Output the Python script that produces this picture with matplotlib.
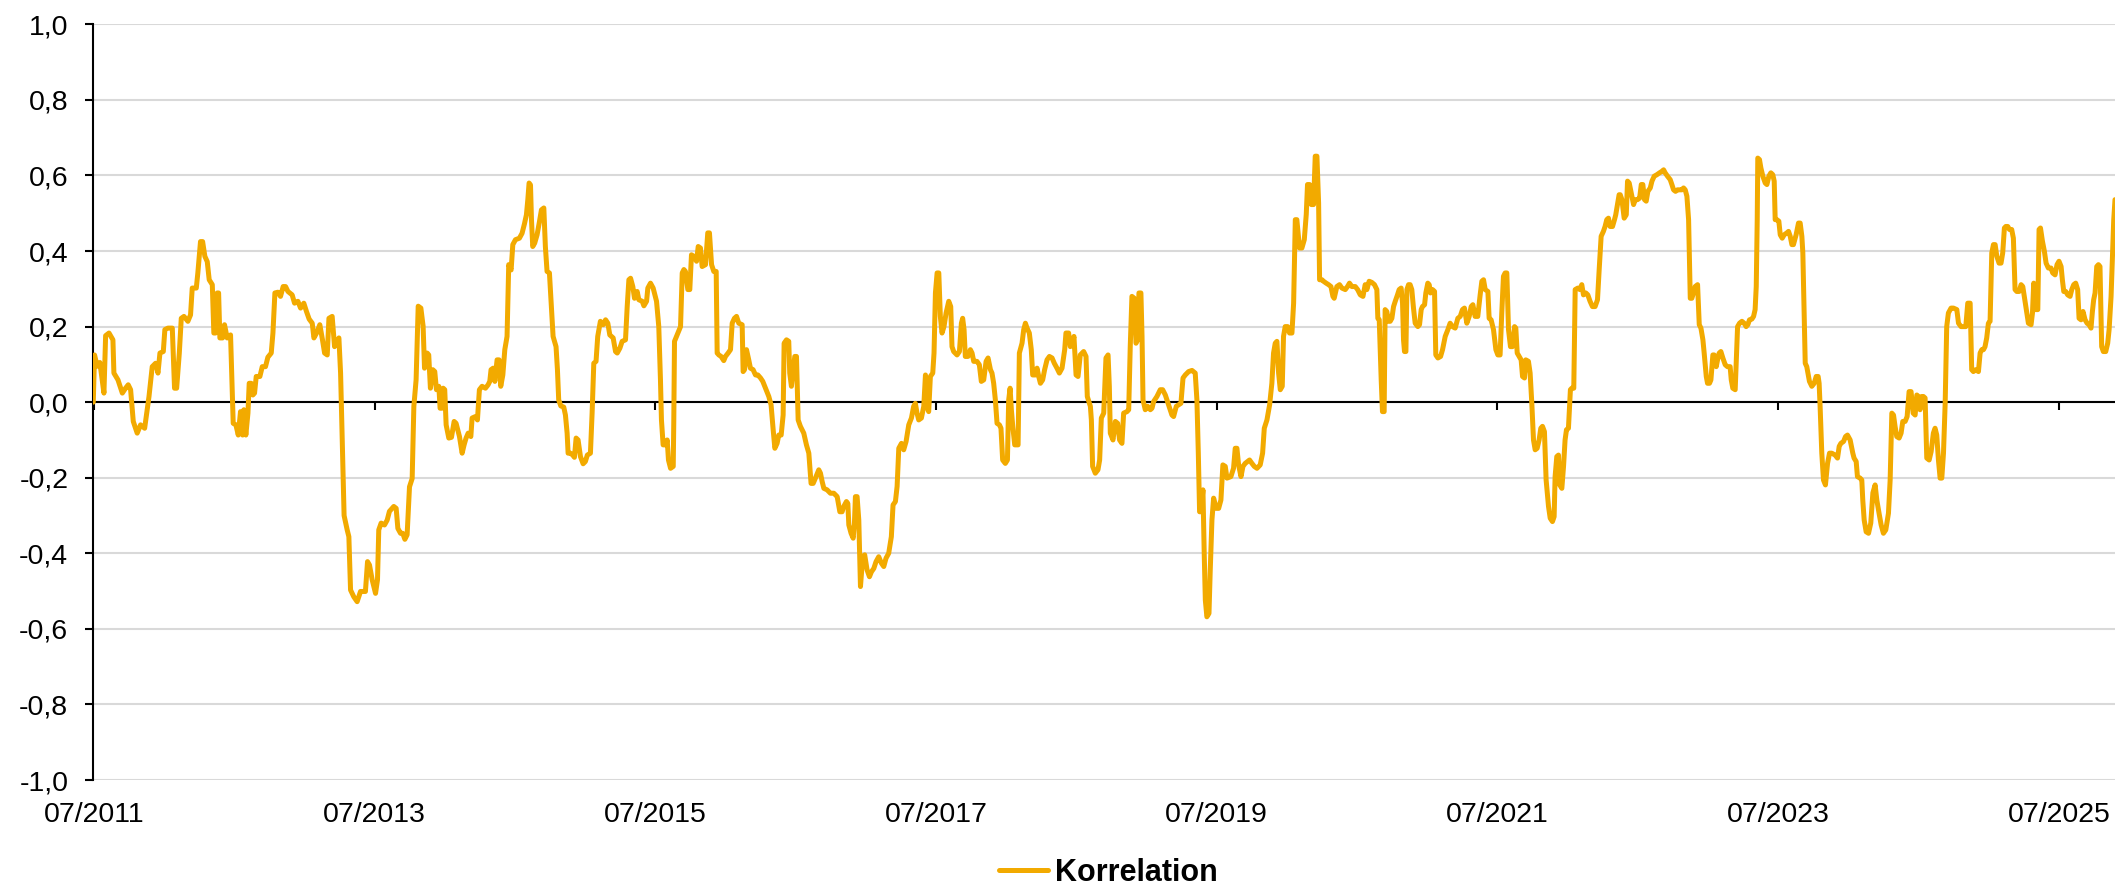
import matplotlib.pyplot as plt

plt.rcParams['font.family'] = ['Liberation Sans', 'DejaVu Sans']
plt.rcParams['axes.unicode_minus'] = False

# Zeitpunkte als Dezimaljahre
zeit = [
    2011.496, 2011.505, 2011.524, 2011.543, 2011.572, 2011.584, 2011.608, 2011.636, 2011.643, 2011.672,
    2011.703, 2011.726, 2011.745, 2011.762, 2011.781, 2011.809, 2011.833, 2011.862, 2011.893, 2011.916,
    2011.940, 2011.957, 2011.971, 2011.995, 2012.006, 2012.028, 2012.059, 2012.075, 2012.090, 2012.109,
    2012.123, 2012.142, 2012.170, 2012.189, 2012.201, 2012.230, 2012.241, 2012.260, 2012.275, 2012.291,
    2012.308, 2012.322, 2012.344, 2012.355, 2012.367, 2012.379, 2012.389, 2012.398, 2012.417, 2012.431,
    2012.450, 2012.474, 2012.493, 2012.512, 2012.529, 2012.545, 2012.560, 2012.569, 2012.583, 2012.598,
    2012.607, 2012.621, 2012.633, 2012.645, 2012.657, 2012.683, 2012.700, 2012.723, 2012.740, 2012.764,
    2012.776, 2012.790, 2012.811, 2012.830, 2012.849, 2012.866, 2012.883, 2012.913, 2012.930, 2012.954,
    2012.973, 2012.996, 2013.015, 2013.034, 2013.056, 2013.068, 2013.087, 2013.110, 2013.129, 2013.144,
    2013.163, 2013.175, 2013.198, 2013.215, 2013.229, 2013.246, 2013.258, 2013.283,
    # 2013-2015
    2013.305, 2013.317, 2013.329, 2013.352, 2013.376, 2013.400, 2013.435, 2013.450, 2013.464, 2013.483,
    2013.507, 2013.521, 2013.530, 2013.547, 2013.571, 2013.590, 2013.606, 2013.637, 2013.654, 2013.666,
    2013.685, 2013.701, 2013.716, 2013.732, 2013.749, 2013.768, 2013.780, 2013.796, 2013.811, 2013.830,
    2013.846, 2013.856, 2013.875, 2013.886, 2013.898, 2013.915, 2013.929, 2013.941, 2013.958, 2013.967,
    2013.981, 2013.989, 2014.000, 2014.010, 2014.029, 2014.048, 2014.067, 2014.081, 2014.105, 2014.124,
    2014.138, 2014.152, 2014.167, 2014.186, 2014.195, 2014.219, 2014.233, 2014.247, 2014.266, 2014.290,
    2014.309, 2014.321, 2014.330, 2014.345, 2014.357, 2014.373, 2014.387, 2014.399, 2014.414, 2014.428,
    2014.444, 2014.456, 2014.473, 2014.485, 2014.504, 2014.532, 2014.551, 2014.568, 2014.582, 2014.592,
    2014.601, 2014.611, 2014.618, 2014.627, 2014.641, 2014.658, 2014.675, 2014.689, 2014.706, 2014.717,
    2014.729, 2014.746, 2014.760, 2014.772, 2014.793, 2014.803, 2014.812, 2014.827, 2014.848, 2014.860,
    2014.872, 2014.879, 2014.895, 2014.912, 2014.924, 2014.936, 2014.950, 2014.967, 2014.986, 2015.002,
    2015.016, 2015.038, 2015.050, 2015.062, 2015.078, 2015.090, 2015.109,
    # 2015-2017
    2015.129, 2015.146, 2015.162, 2015.176, 2015.200, 2015.217, 2015.229, 2015.248, 2015.264, 2015.288,
    2015.300, 2015.312, 2015.324, 2015.340, 2015.352, 2015.371, 2015.383, 2015.407, 2015.419, 2015.438,
    2015.447, 2015.466, 2015.485, 2015.509, 2015.525, 2015.537, 2015.544, 2015.556, 2015.575, 2015.585,
    2015.594, 2015.609, 2015.628, 2015.632, 2015.637, 2015.656, 2015.680, 2015.692, 2015.704, 2015.715,
    2015.732, 2015.746, 2015.758, 2015.775, 2015.794, 2015.806, 2015.822, 2015.834, 2015.858, 2015.874,
    2015.886, 2015.901, 2015.917, 2015.934, 2015.941, 2015.953, 2015.969, 2015.988, 2016.000, 2016.019,
    2016.036, 2016.048, 2016.064, 2016.079, 2016.095, 2016.119, 2016.126, 2016.136, 2016.150, 2016.166,
    2016.178, 2016.197, 2016.214, 2016.231, 2016.250, 2016.266, 2016.285, 2016.309, 2016.325, 2016.340,
    2016.352, 2016.368, 2016.380, 2016.397, 2016.411, 2016.418, 2016.435, 2016.451, 2016.458, 2016.470,
    2016.482, 2016.494, 2016.506, 2016.518, 2016.534, 2016.558, 2016.577, 2016.594, 2016.610, 2016.625,
    2016.641, 2016.665, 2016.677, 2016.689, 2016.701, 2016.724, 2016.748, 2016.772, 2016.796, 2016.815,
    2016.831, 2016.843, 2016.862, 2016.872, 2016.879, 2016.895, 2016.910, 2016.919, 2016.926,
    # 2017-2019
    2016.938, 2016.950, 2016.962, 2016.978, 2016.992, 2017.009, 2017.026, 2017.040, 2017.057, 2017.073,
    2017.092, 2017.111, 2017.128, 2017.144, 2017.163, 2017.182, 2017.194, 2017.211, 2017.223, 2017.235,
    2017.254, 2017.270, 2017.287, 2017.306, 2017.325, 2017.341, 2017.353, 2017.365, 2017.377, 2017.396,
    2017.413, 2017.425, 2017.436, 2017.448, 2017.460, 2017.477, 2017.486, 2017.496, 2017.508, 2017.520,
    2017.531, 2017.543, 2017.557, 2017.572, 2017.591, 2017.605, 2017.614, 2017.626, 2017.650, 2017.667,
    2017.681, 2017.690, 2017.700, 2017.709, 2017.728, 2017.745, 2017.757, 2017.769, 2017.792, 2017.809,
    2017.823, 2017.840, 2017.857, 2017.871, 2017.888, 2017.899, 2017.911, 2017.923, 2017.935, 2017.952,
    2017.963, 2017.975, 2017.994, 2018.009, 2018.018, 2018.028, 2018.037, 2018.047, 2018.061, 2018.085,
    2018.094, 2018.113, 2018.125, 2018.137, 2018.149, 2018.165, 2018.179, 2018.189, 2018.208, 2018.220,
    2018.232, 2018.244, 2018.260, 2018.274, 2018.291, 2018.308, 2018.327, 2018.343, 2018.362, 2018.379,
    2018.398, 2018.417, 2018.426, 2018.445, 2018.457, 2018.469, 2018.483, 2018.498, 2018.512, 2018.528,
    2018.552, 2018.569, 2018.578, 2018.600, 2018.607, 2018.616, 2018.635, 2018.654, 2018.666, 2018.678,
    2018.695, 2018.702, 2018.711, 2018.726, 2018.735, 2018.742,
    # 2019-2021
    2018.761, 2018.778, 2018.794, 2018.808, 2018.825, 2018.837, 2018.861, 2018.873, 2018.884, 2018.896,
    2018.913, 2018.925, 2018.937, 2018.946, 2018.960, 2018.968, 2018.975, 2018.991, 2019.008, 2019.027,
    2019.039, 2019.051, 2019.074, 2019.098, 2019.115, 2019.134, 2019.157, 2019.181, 2019.193, 2019.212,
    2019.229, 2019.245, 2019.260, 2019.276, 2019.300, 2019.324, 2019.347, 2019.359, 2019.369, 2019.378,
    2019.388, 2019.402, 2019.411, 2019.419, 2019.430, 2019.445, 2019.454, 2019.466, 2019.478, 2019.497,
    2019.514, 2019.530, 2019.544, 2019.561, 2019.573, 2019.601, 2019.620, 2019.632, 2019.644, 2019.656,
    2019.673, 2019.687, 2019.703, 2019.720, 2019.734, 2019.751, 2019.768, 2019.787, 2019.810, 2019.827,
    2019.839, 2019.858, 2019.877, 2019.893, 2019.905, 2019.917, 2019.929, 2019.941, 2019.953, 2019.967,
    2019.976, 2019.988, 2020.005, 2020.019, 2020.036, 2020.048, 2020.060, 2020.071, 2020.090, 2020.107,
    2020.124, 2020.138, 2020.147, 2020.162, 2020.174, 2020.190, 2020.202, 2020.214, 2020.226, 2020.233,
    2020.250, 2020.261, 2020.280, 2020.297, 2020.314, 2020.328, 2020.337, 2020.356, 2020.375, 2020.392,
    2020.416, 2020.432, 2020.446, 2020.463, 2020.487, 2020.504, 2020.523, 2020.542, 2020.558,
    # 2021-2023
    2020.570, 2020.586, 2020.605, 2020.624, 2020.641, 2020.648, 2020.658, 2020.672, 2020.681, 2020.693,
    2020.700, 2020.712, 2020.724, 2020.736, 2020.748, 2020.760, 2020.772, 2020.788, 2020.800, 2020.814,
    2020.824, 2020.831, 2020.838, 2020.848, 2020.855, 2020.867, 2020.878, 2020.890, 2020.902, 2020.914,
    2020.933, 2020.945, 2020.957, 2020.966, 2020.981, 2020.990, 2021.004, 2021.014, 2021.023, 2021.038,
    2021.052, 2021.061, 2021.076, 2021.095, 2021.109, 2021.128, 2021.147, 2021.163, 2021.180, 2021.199,
    2021.218, 2021.235, 2021.251, 2021.265, 2021.282, 2021.299, 2021.313, 2021.325, 2021.341, 2021.360,
    2021.377, 2021.389, 2021.401, 2021.413, 2021.432, 2021.441, 2021.455, 2021.472, 2021.489, 2021.503,
    2021.519, 2021.531, 2021.543, 2021.555, 2021.567, 2021.579, 2021.593, 2021.607, 2021.622, 2021.631,
    2021.641, 2021.655, 2021.669, 2021.679, 2021.693, 2021.702, 2021.721, 2021.733, 2021.745, 2021.757,
    2021.769, 2021.783, 2021.797, 2021.809, 2021.821, 2021.835, 2021.847, 2021.864, 2021.876, 2021.892,
    2021.904, 2021.911, 2021.923, 2021.935, 2021.944, 2021.959, 2021.971, 2021.982, 2021.992, 2022.006,
    2022.020, 2022.030, 2022.044, 2022.054, 2022.073, 2022.087, 2022.101, 2022.113, 2022.130, 2022.144,
    2022.160, 2022.177, 2022.196, 2022.213, 2022.225, 2022.239, 2022.255, 2022.267, 2022.279, 2022.291,
    2022.303, 2022.320, 2022.334, 2022.343, 2022.357, 2022.367, 2022.375,
    # 2023-2025
    2022.387, 2022.403, 2022.418, 2022.427, 2022.439, 2022.453, 2022.470, 2022.482, 2022.498, 2022.513,
    2022.525, 2022.536, 2022.548, 2022.560, 2022.572, 2022.589, 2022.601, 2022.617, 2022.636, 2022.655,
    2022.672, 2022.684, 2022.695, 2022.712, 2022.731, 2022.743, 2022.755, 2022.769, 2022.783, 2022.802,
    2022.814, 2022.826, 2022.838, 2022.850, 2022.862, 2022.874, 2022.885, 2022.897, 2022.909, 2022.926,
    2022.938, 2022.950, 2022.964, 2022.973, 2022.988, 2022.997, 2023.011, 2023.021, 2023.035, 2023.044,
    2023.059, 2023.071, 2023.080, 2023.092, 2023.106, 2023.123, 2023.139, 2023.158, 2023.166, 2023.177,
    2023.194, 2023.201, 2023.211, 2023.225, 2023.242, 2023.258, 2023.272, 2023.284, 2023.296, 2023.313,
    2023.325, 2023.336, 2023.344, 2023.351, 2023.355, 2023.367, 2023.377, 2023.391, 2023.408, 2023.420,
    2023.434, 2023.448, 2023.462, 2023.472, 2023.479, 2023.491, 2023.505, 2023.515, 2023.529, 2023.543,
    2023.562, 2023.574, 2023.586, 2023.598, 2023.609, 2023.628, 2023.645, 2023.657, 2023.669, 2023.676,
    2023.685, 2023.693, 2023.704, 2023.723, 2023.740, 2023.757, 2023.771, 2023.785, 2023.792, 2023.799,
    2023.811, 2023.823, 2023.837, 2023.852, 2023.866, 2023.882, 2023.906, 2023.923, 2023.935, 2023.947,
    2023.966, 2023.980, 2023.994, 2024.013, 2024.032, 2024.041, 2024.056, 2024.065, 2024.084, 2024.096,
    2024.103, 2024.113, 2024.127, 2024.144, 2024.160, 2024.175, 2024.191,
    # ab 2024
    2024.203, 2024.219, 2024.234, 2024.250, 2024.267, 2024.286, 2024.298, 2024.310, 2024.322, 2024.333,
    2024.345, 2024.362, 2024.376, 2024.388, 2024.405, 2024.419, 2024.433, 2024.447, 2024.462, 2024.476,
    2024.488, 2024.500, 2024.511, 2024.523, 2024.535, 2024.547, 2024.559, 2024.576, 2024.590, 2024.606,
    2024.618, 2024.630, 2024.642, 2024.654, 2024.666, 2024.678, 2024.690, 2024.701, 2024.713, 2024.732,
    2024.749, 2024.773, 2024.785, 2024.803, 2024.820, 2024.837, 2024.851, 2024.868, 2024.879, 2024.891,
    2024.908, 2024.927, 2024.939, 2024.951, 2024.963, 2024.974, 2024.986, 2024.998, 2025.010, 2025.022,
    2025.034, 2025.046, 2025.058, 2025.074, 2025.088, 2025.100, 2025.112, 2025.122, 2025.136, 2025.148,
    2025.164, 2025.176, 2025.188, 2025.200, 2025.217, 2025.231, 2025.243, 2025.259, 2025.271, 2025.283,
    2025.302, 2025.312, 2025.321, 2025.331, 2025.350, 2025.359, 2025.369, 2025.383, 2025.397, 2025.409,
    2025.425, 2025.444, 2025.456, 2025.473, 2025.487, 2025.501, 2025.516, 2025.525, 2025.535, 2025.549,
    2025.563, 2025.580, 2025.592, 2025.606, 2025.620, 2025.634, 2025.644, 2025.658, 2025.672, 2025.687,
    2025.701, 2025.715, 2025.729, 2025.739, 2025.748, 2025.758, 2025.770, 2025.782, 2025.793, 2025.805,
    2025.817, 2025.834, 2025.848, 2025.858, 2025.872, 2025.881, 2025.891, 2025.900,
]

korrelation = [
    0.000, 0.125, 0.095, 0.105, 0.024, 0.176, 0.183, 0.165, 0.077, 0.059,
    0.024, 0.037, 0.046, 0.033, -0.051, -0.082, -0.060, -0.069, 0.015, 0.094,
    0.103, 0.077, 0.130, 0.134, 0.192, 0.196, 0.196, 0.037, 0.037, 0.130,
    0.222, 0.227, 0.214, 0.231, 0.302, 0.302, 0.342, 0.425, 0.425, 0.386,
    0.372, 0.324, 0.311, 0.183, 0.183, 0.289, 0.289, 0.170, 0.170, 0.205,
    0.170, 0.178, -0.056, -0.060, -0.087, -0.025, -0.087, -0.020, -0.087, -0.029,
    0.050, 0.050, 0.019, 0.024, 0.068, 0.068, 0.094, 0.094, 0.119, 0.130,
    0.183, 0.289, 0.291, 0.280, 0.306, 0.306, 0.293, 0.284, 0.262, 0.267,
    0.249, 0.262, 0.240, 0.220, 0.209, 0.170, 0.183, 0.205, 0.165, 0.130,
    0.125, 0.222, 0.227, 0.147, 0.156, 0.170, 0.077, -0.300,
    # 2013-2015
    -0.338, -0.356, -0.497, -0.515, -0.528, -0.501, -0.501, -0.422, -0.431, -0.470,
    -0.506, -0.470, -0.338, -0.320, -0.325, -0.312, -0.289, -0.276, -0.281, -0.334,
    -0.347, -0.347, -0.363, -0.351, -0.224, -0.202, -0.011, 0.059, 0.254, 0.249,
    0.201, 0.090, 0.130, 0.125, 0.037, 0.086, 0.081, 0.033, 0.042, -0.016,
    -0.016, 0.037, 0.033, -0.060, -0.095, -0.093, -0.051, -0.056, -0.091, -0.135,
    -0.113, -0.095, -0.082, -0.091, -0.042, -0.038, -0.047, 0.033, 0.042, 0.037,
    0.046, 0.055, 0.086, 0.090, 0.055, 0.112, 0.112, 0.042, 0.072, 0.139,
    0.174, 0.364, 0.350, 0.417, 0.430, 0.434, 0.447, 0.472, 0.496, 0.536,
    0.580, 0.575, 0.483, 0.412, 0.421, 0.443, 0.478, 0.509, 0.514, 0.412,
    0.346, 0.342, 0.254, 0.174, 0.147, 0.086, 0.006, -0.010, -0.013, -0.034,
    -0.082, -0.135, -0.135, -0.140, -0.146, -0.095, -0.100, -0.144, -0.163, -0.157,
    -0.140, -0.135, -0.029, 0.103, 0.108, 0.174, 0.214,
    # 2015-2017
    0.205, 0.218, 0.209, 0.178, 0.170, 0.134, 0.130, 0.143, 0.161, 0.165,
    0.253, 0.324, 0.328, 0.306, 0.275, 0.293, 0.271, 0.267, 0.255, 0.267,
    0.302, 0.315, 0.302, 0.267, 0.200, 0.059, -0.047, -0.113, -0.113, -0.100,
    -0.153, -0.175, -0.170, -0.047, 0.161, 0.178, 0.200, 0.342, 0.351, 0.346,
    0.298, 0.298, 0.390, 0.386, 0.373, 0.412, 0.408, 0.359, 0.364, 0.448,
    0.448, 0.364, 0.346, 0.346, 0.130, 0.125, 0.121, 0.110, 0.121, 0.130,
    0.139, 0.209, 0.222, 0.227, 0.209, 0.205, 0.081, 0.086, 0.139, 0.112,
    0.090, 0.086, 0.072, 0.072, 0.064, 0.055, 0.037, 0.015, -0.007, -0.073,
    -0.122, -0.109, -0.087, -0.087, -0.034, 0.156, 0.165, 0.161, 0.077, 0.042,
    0.081, 0.121, 0.121, -0.047, -0.064, -0.082, -0.113, -0.135, -0.215, -0.215,
    -0.201, -0.179, -0.188, -0.210, -0.228, -0.232, -0.241, -0.241, -0.250, -0.290,
    -0.290, -0.276, -0.263, -0.268, -0.325, -0.347, -0.360, -0.320, -0.250,
    # 2017-2019
    -0.250, -0.312, -0.488, -0.409, -0.404, -0.444, -0.462, -0.449, -0.440, -0.422,
    -0.409, -0.426, -0.435, -0.413, -0.400, -0.356, -0.272, -0.263, -0.223, -0.122,
    -0.109, -0.126, -0.104, -0.060, -0.042, -0.011, -0.003, -0.029, -0.047, -0.042,
    -0.011, 0.072, -0.011, -0.025, 0.068, 0.077, 0.130, 0.289, 0.342, 0.342,
    0.227, 0.183, 0.200, 0.236, 0.267, 0.253, 0.147, 0.134, 0.125, 0.134,
    0.209, 0.222, 0.192, 0.121, 0.121, 0.139, 0.130, 0.108, 0.108, 0.099,
    0.055, 0.059, 0.108, 0.117, 0.086, 0.077, 0.050, 0.006, -0.056, -0.060,
    -0.069, -0.153, -0.162, -0.153, 0.006, 0.037, -0.020, -0.064, -0.113, -0.113,
    0.130, 0.156, 0.192, 0.209, 0.196, 0.183, 0.139, 0.072, 0.072, 0.090,
    0.068, 0.050, 0.059, 0.086, 0.112, 0.121, 0.117, 0.103, 0.090, 0.077,
    0.090, 0.139, 0.183, 0.183, 0.147, 0.152, 0.174, 0.072, 0.068, 0.125,
    0.134, 0.121, 0.015, -0.011, -0.047, -0.170, -0.188, -0.179, -0.153, -0.042,
    -0.029, 0.033, 0.117, 0.125, 0.042, -0.082,
    # 2019-2021
    -0.100, -0.051, -0.056, -0.100, -0.109, -0.029, -0.025, -0.020, 0.147, 0.280,
    0.275, 0.156, 0.165, 0.289, 0.289, 0.174, 0.006, -0.020, -0.011, -0.020,
    -0.016, 0.002, 0.015, 0.033, 0.033, 0.019, -0.007, -0.034, -0.038, -0.011,
    -0.007, -0.003, 0.064, 0.072, 0.081, 0.084, 0.077, 0.006, -0.135, -0.290,
    -0.290, -0.232, -0.400, -0.524, -0.568, -0.559, -0.444, -0.312, -0.254, -0.281,
    -0.281, -0.259, -0.166, -0.170, -0.201, -0.197, -0.175, -0.122, -0.122, -0.166,
    -0.197, -0.170, -0.162, -0.157, -0.153, -0.162, -0.170, -0.175, -0.166, -0.135,
    -0.069, -0.047, -0.007, 0.050, 0.130, 0.156, 0.161, 0.077, 0.033, 0.042,
    0.174, 0.200, 0.200, 0.183, 0.183, 0.262, 0.483, 0.483, 0.408, 0.408,
    0.430, 0.497, 0.576, 0.576, 0.523, 0.523, 0.651, 0.651, 0.527, 0.324,
    0.324, 0.320, 0.315, 0.311, 0.306, 0.280, 0.275, 0.306, 0.311, 0.302,
    0.298, 0.306, 0.315, 0.306, 0.306, 0.298, 0.284, 0.280, 0.311,
    # 2021-2023
    0.298, 0.320, 0.317, 0.311, 0.298, 0.222, 0.218, 0.059, -0.025, -0.025,
    0.245, 0.240, 0.214, 0.214, 0.222, 0.253, 0.267, 0.284, 0.298, 0.302,
    0.262, 0.165, 0.134, 0.134, 0.298, 0.311, 0.311, 0.298, 0.249, 0.209,
    0.200, 0.205, 0.245, 0.253, 0.258, 0.289, 0.315, 0.311, 0.289, 0.298,
    0.293, 0.125, 0.117, 0.121, 0.139, 0.174, 0.192, 0.209, 0.200, 0.196,
    0.222, 0.227, 0.245, 0.249, 0.209, 0.227, 0.253, 0.258, 0.227, 0.227,
    0.284, 0.320, 0.324, 0.298, 0.293, 0.222, 0.218, 0.192, 0.139, 0.125,
    0.125, 0.236, 0.333, 0.342, 0.342, 0.192, 0.147, 0.147, 0.200, 0.196,
    0.130, 0.121, 0.112, 0.068, 0.064, 0.112, 0.108, 0.077, -0.003, -0.100,
    -0.126, -0.122, -0.100, -0.069, -0.064, -0.078, -0.206, -0.276, -0.307, -0.316,
    -0.303, -0.197, -0.144, -0.140, -0.219, -0.228, -0.170, -0.100, -0.073, -0.069,
    0.033, 0.037, 0.037, 0.298, 0.302, 0.298, 0.311, 0.284, 0.289, 0.284,
    0.267, 0.253, 0.253, 0.271, 0.351, 0.439, 0.452, 0.465, 0.483, 0.487,
    0.465, 0.465, 0.483, 0.496, 0.527, 0.549, 0.549,
    # 2023-2025
    0.536, 0.487, 0.496, 0.585, 0.580, 0.554, 0.523, 0.536, 0.536, 0.540,
    0.576, 0.576, 0.536, 0.532, 0.558, 0.567, 0.585, 0.598, 0.602, 0.607,
    0.611, 0.615, 0.607, 0.598, 0.589, 0.576, 0.562, 0.558, 0.562, 0.562,
    0.562, 0.567, 0.562, 0.545, 0.483, 0.275, 0.275, 0.289, 0.306, 0.311,
    0.205, 0.196, 0.165, 0.130, 0.068, 0.050, 0.050, 0.059, 0.125, 0.125,
    0.094, 0.117, 0.130, 0.134, 0.117, 0.099, 0.094, 0.094, 0.059, 0.037,
    0.033, 0.103, 0.200, 0.209, 0.214, 0.209, 0.200, 0.205, 0.218, 0.220,
    0.227, 0.245, 0.306, 0.483, 0.646, 0.642, 0.620, 0.598, 0.580, 0.576,
    0.598, 0.607, 0.602, 0.585, 0.483, 0.483, 0.479, 0.443, 0.434, 0.443,
    0.448, 0.452, 0.439, 0.417, 0.417, 0.443, 0.474, 0.474, 0.439, 0.395,
    0.236, 0.103, 0.094, 0.055, 0.042, 0.050, 0.068, 0.068, 0.050, -0.011,
    -0.135, -0.206, -0.219, -0.162, -0.135, -0.135, -0.140, -0.148, -0.117, -0.109,
    -0.104, -0.091, -0.087, -0.100, -0.135, -0.148, -0.157, -0.197, -0.201, -0.206,
    -0.259, -0.312, -0.343, -0.347, -0.320, -0.240, -0.219,
    # ab 2024
    -0.259, -0.294, -0.325, -0.347, -0.338, -0.294, -0.206, -0.029, -0.034, -0.064,
    -0.091, -0.095, -0.082, -0.051, -0.051, -0.038, 0.028, 0.028, -0.029, -0.034,
    0.019, 0.015, -0.020, 0.015, 0.015, 0.011, -0.148, -0.153, -0.131, -0.082,
    -0.069, -0.087, -0.153, -0.201, -0.201, -0.135, -0.003, 0.200, 0.236, 0.249,
    0.249, 0.245, 0.209, 0.200, 0.200, 0.200, 0.262, 0.262, 0.086, 0.081,
    0.086, 0.081, 0.130, 0.139, 0.139, 0.147, 0.170, 0.209, 0.214, 0.395,
    0.417, 0.417, 0.386, 0.368, 0.368, 0.395, 0.461, 0.465, 0.465, 0.457,
    0.457, 0.434, 0.298, 0.293, 0.293, 0.311, 0.306, 0.267, 0.236, 0.209,
    0.205, 0.236, 0.315, 0.245, 0.245, 0.457, 0.461, 0.426, 0.399, 0.368,
    0.355, 0.355, 0.342, 0.337, 0.364, 0.373, 0.359, 0.324, 0.293, 0.293,
    0.284, 0.280, 0.298, 0.311, 0.315, 0.298, 0.222, 0.218, 0.240, 0.218,
    0.209, 0.205, 0.196, 0.240, 0.271, 0.289, 0.359, 0.364, 0.359, 0.147,
    0.134, 0.134, 0.156, 0.192, 0.280, 0.377, 0.483, 0.536,
]

tick_jahre = [2011.5, 2013.5, 2015.5, 2017.5, 2019.5, 2021.5, 2023.5, 2025.5]
tick_labels = ['07/2011', '07/2013', '07/2015', '07/2017', '07/2019', '07/2021', '07/2023', '07/2025']
y_werte = [-1.0, -0.8, -0.6, -0.4, -0.2, 0.0, 0.2, 0.4, 0.6, 0.8, 1.0]

fig = plt.figure(figsize=(21.15, 8.88), dpi=100)
ax = fig.add_axes([0.0441, 0.1216, 0.9559, 0.851])

ax.plot(zeit, korrelation, color='#F2AA00', lw=3.6, label='Korrelation',
        solid_joinstyle='round', solid_capstyle='round', zorder=3)

ax.set_xlim(zeit[0], zeit[-1])
ax.set_ylim(-1, 1)
ax.set_yticks(y_werte)
ax.set_yticklabels([f'{v:.1f}'.replace('.', ',') for v in y_werte])
ax.set_xticks(tick_jahre)
ax.set_xticklabels(tick_labels)

ax.grid(axis='y', color='#d9d9d9', lw=1.5)
ax.set_axisbelow(True)
# Nulllinie mit kleinen Teilstrichen nach unten
ax.axhline(0, color='black', lw=1.5, zorder=2)
ax.vlines(tick_jahre, -0.021, 0, color='black', lw=1.5, zorder=2)

for side in ['top', 'right', 'bottom']:
    ax.spines[side].set_visible(False)
ax.spines['left'].set_linewidth(1.5)

ax.tick_params(axis='x', length=0, pad=16, labelsize=20.5)
ax.tick_params(axis='y', length=6, width=1.5, pad=12, labelsize=20.5)

fig.legend(loc='center', bbox_to_anchor=(0.524, 0.017), frameon=False,
           prop={'weight': 'bold', 'size': 22}, handlelength=1.6, handletextpad=0.25)

fig.savefig('out.png', dpi=100, facecolor='white')
